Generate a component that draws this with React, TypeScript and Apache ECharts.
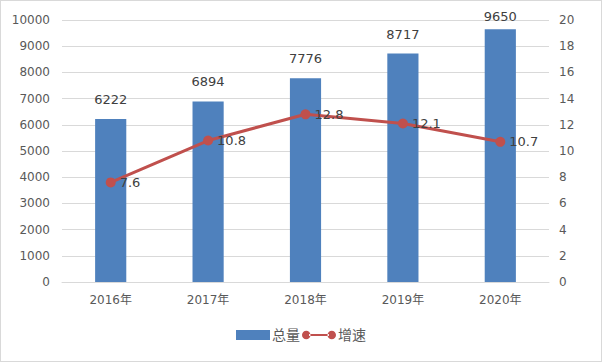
import React, { useEffect, useRef } from "react";
import * as echarts from "echarts";

const categories = ["2016年", "2017年", "2018年", "2019年", "2020年"];
const totals = [6222, 6894, 7776, 8717, 9650];
const growth = [7.6, 10.8, 12.8, 12.1, 10.7];

export default function App() {
  const ref = useRef<HTMLDivElement>(null);
  useEffect(() => {
    document.body.style.margin = "0";
    const chart = echarts.init(ref.current!, null, { renderer: "svg" });
    const font = "'DejaVu Sans', 'Noto Sans CJK SC', sans-serif";
    const lineIcon =
      "path://M0,6a6,6 0 1,0 12,0a6,6 0 1,0 -12,0zM10,4.5h28v3h-28zM36,6a6,6 0 1,0 12,0a6,6 0 1,0 -12,0z";
    chart.setOption({
      animation: false,
      textStyle: { fontFamily: font },
      grid: { left: 61, right: 52, top: 19, bottom: 79 },
      legend: {
        bottom: 14,
        left: "center",
        itemGap: 2,
        itemWidth: 34,
        itemHeight: 10,
        textStyle: { color: "#595959", fontSize: 14, fontFamily: font, padding: [0, 0, 0, -3] },
        data: [
          { name: "总量", icon: "rect" },
          { name: "增速", icon: lineIcon, itemStyle: { color: "#C0504D" } },
        ],
      },
      xAxis: {
        type: "category",
        data: categories,
        axisLine: { lineStyle: { color: "#d9d9d9" } },
        axisTick: { show: false },
        axisLabel: { color: "#595959", fontSize: 12, margin: 12 },
      },
      yAxis: [
        {
          type: "value",
          min: 0,
          max: 10000,
          interval: 1000,
          axisLabel: { color: "#595959", fontSize: 12, margin: 12, formatter: (v: number) => String(v) },
          splitLine: { lineStyle: { color: "#d9d9d9" } },
          axisLine: { show: false },
        },
        {
          type: "value",
          min: 0,
          max: 20,
          interval: 2,
          axisLabel: { color: "#595959", fontSize: 12, margin: 10 },
          splitLine: { show: false },
          axisLine: { show: false },
        },
      ],
      series: [
        {
          name: "总量",
          type: "bar",
          data: totals.map((v, i) =>
            i === totals.length - 1 ? { value: v, label: { distance: 6 } } : v
          ),
          barWidth: "32%",
          itemStyle: { color: "#4F81BD" },
          label: { show: true, position: "top", distance: 13, color: "#404040", fontSize: 13 },
        },
        {
          name: "增速",
          type: "line",
          yAxisIndex: 1,
          data: growth,
          symbol: "circle",
          symbolSize: 10,
          lineStyle: { color: "#C0504D", width: 3 },
          itemStyle: { color: "#C0504D" },
          label: { show: true, position: "right", distance: 4, color: "#404040", fontSize: 13 },
        },
      ],
    });
    return () => chart.dispose();
  }, []);
  return (
    <div
      ref={ref}
      style={{ width: 602, height: 362, boxSizing: "border-box", border: "1px solid #d9d9d9", background: "#fff" }}
    />
  );
}
